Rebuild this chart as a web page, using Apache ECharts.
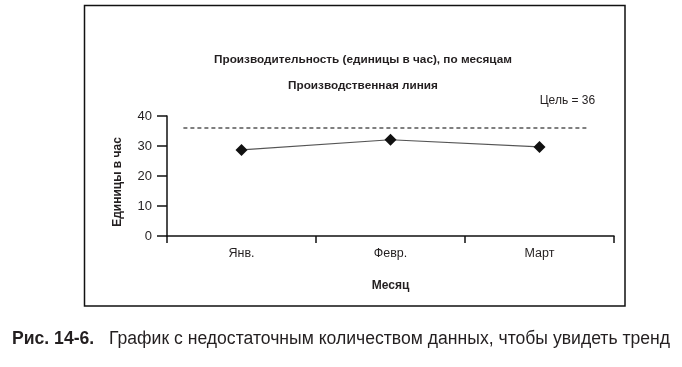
<!DOCTYPE html>
<html>
<head>
<meta charset="utf-8">
<script src="https://cdn.jsdelivr.net/npm/echarts@6/dist/echarts.min.js"></script>
<style>
html,body{margin:0;padding:0;background:#fff;}
#chart{width:682px;height:367px;}
</style>
</head>
<body>
<div id="chart"></div>
<script>
// Data
var categories = ['Янв.', 'Февр.', 'Март'];
var productivity = [28.7, 32.1, 29.7];
var goalValue = 36;
var goalSpan = [-0.39, 2.33]; // extent of target line in category-index units
var yTicks = [0, 10, 20, 30, 40];
var title1 = 'Производительность (единицы в час), по месяцам';
var title2 = 'Производственная линия';
var xName = 'Месяц';
var yName = 'Единицы в час';
var captionBold = 'Рис. 14-6.';
var captionText = 'График с недостаточным количеством данных, чтобы увидеть тренд';

var FONT = "'Liberation Sans', Arial, sans-serif";
var TXT = '#231f20';

var chart = echarts.init(document.getElementById('chart'), null, {renderer: 'canvas'});
var goalData = goalSpan.map(function (x) { return [x, goalValue]; });

chart.setOption({
  backgroundColor: '#fff',
  animation: false,
  textStyle: {fontFamily: FONT},
  title: [
    {text: title1, left: 358, top: 49, textAlign: 'center',
     textStyle: {fontSize: 11.75, fontWeight: 'bold', color: TXT, fontFamily: FONT}},
    {text: title2, left: 358, top: 75, textAlign: 'center',
     textStyle: {fontSize: 11.75, fontWeight: 'bold', color: TXT, fontFamily: FONT}}
  ],
  grid: {left: 167, right: 68, top: 116, bottom: 131, containLabel: false},
  xAxis: [
    {
      type: 'category', data: categories, boundaryGap: true,
      name: xName, nameLocation: 'middle', nameGap: 44,
      nameTextStyle: {fontSize: 12, fontWeight: 'bold', color: TXT, fontFamily: FONT},
      axisLine: {onZero: false, lineStyle: {color: '#111', width: 1.5}},
      axisTick: {show: true, length: 7, inside: false, lineStyle: {color: '#111', width: 1.5}},
      axisLabel: {color: TXT, fontSize: 12.5, margin: 11, fontFamily: FONT},
      splitLine: {show: false}
    },
    {
      type: 'value', min: -0.5, max: 2.5, show: false, position: 'bottom',
      axisLine: {onZero: false}
    }
  ],
  yAxis: {
    type: 'value', min: yTicks[0], max: yTicks[yTicks.length - 1], interval: 10,
    name: yName, nameLocation: 'middle', nameGap: 43, nameRotate: 90,
    nameTextStyle: {fontSize: 12, fontWeight: 'bold', color: TXT, fontFamily: FONT, padding: [0, 12, 0, 0]},
    axisLine: {show: true, onZero: false, lineStyle: {color: '#111', width: 1.5}},
    axisTick: {show: true, length: 10, inside: false, lineStyle: {color: '#111', width: 1.5}},
    axisLabel: {color: TXT, fontSize: 13, margin: 15, fontFamily: FONT},
    splitLine: {show: false}
  },
  series: [
    {
      type: 'line', xAxisIndex: 1, data: goalData,
      symbol: 'circle', symbolSize: 1, showSymbol: true,
      itemStyle: {color: 'rgba(0,0,0,0)'},
      lineStyle: {color: '#000', width: 1.2, type: [4, 3]},
      label: {
        show: true,
        formatter: function (p) { return p.dataIndex === goalData.length - 1 ? 'Цель = ' + goalValue : ''; },
        position: [7, -27], align: 'right', verticalAlign: 'middle',
        color: TXT, fontSize: 12, fontFamily: FONT
      },
      silent: true, z: 1
    },
    {
      type: 'line', data: productivity,
      symbol: 'diamond', symbolSize: 12,
      itemStyle: {color: '#111'},
      lineStyle: {color: '#555', width: 1.1},
      z: 3
    }
  ],
  graphic: [
    {type: 'rect', shape: {x: 84.5, y: 5.5, width: 540.5, height: 300.5},
     style: {fill: 'none', stroke: '#111', lineWidth: 1.5}, silent: true},
    {type: 'text', left: 12, top: 330,
     style: {text: captionBold, font: 'bold 17.6px ' + FONT, fill: TXT}},
    {type: 'text', left: 109, top: 330,
     style: {text: captionText, font: '17.6px ' + FONT, fill: TXT}}
  ]
});
</script>
</body>
</html>
